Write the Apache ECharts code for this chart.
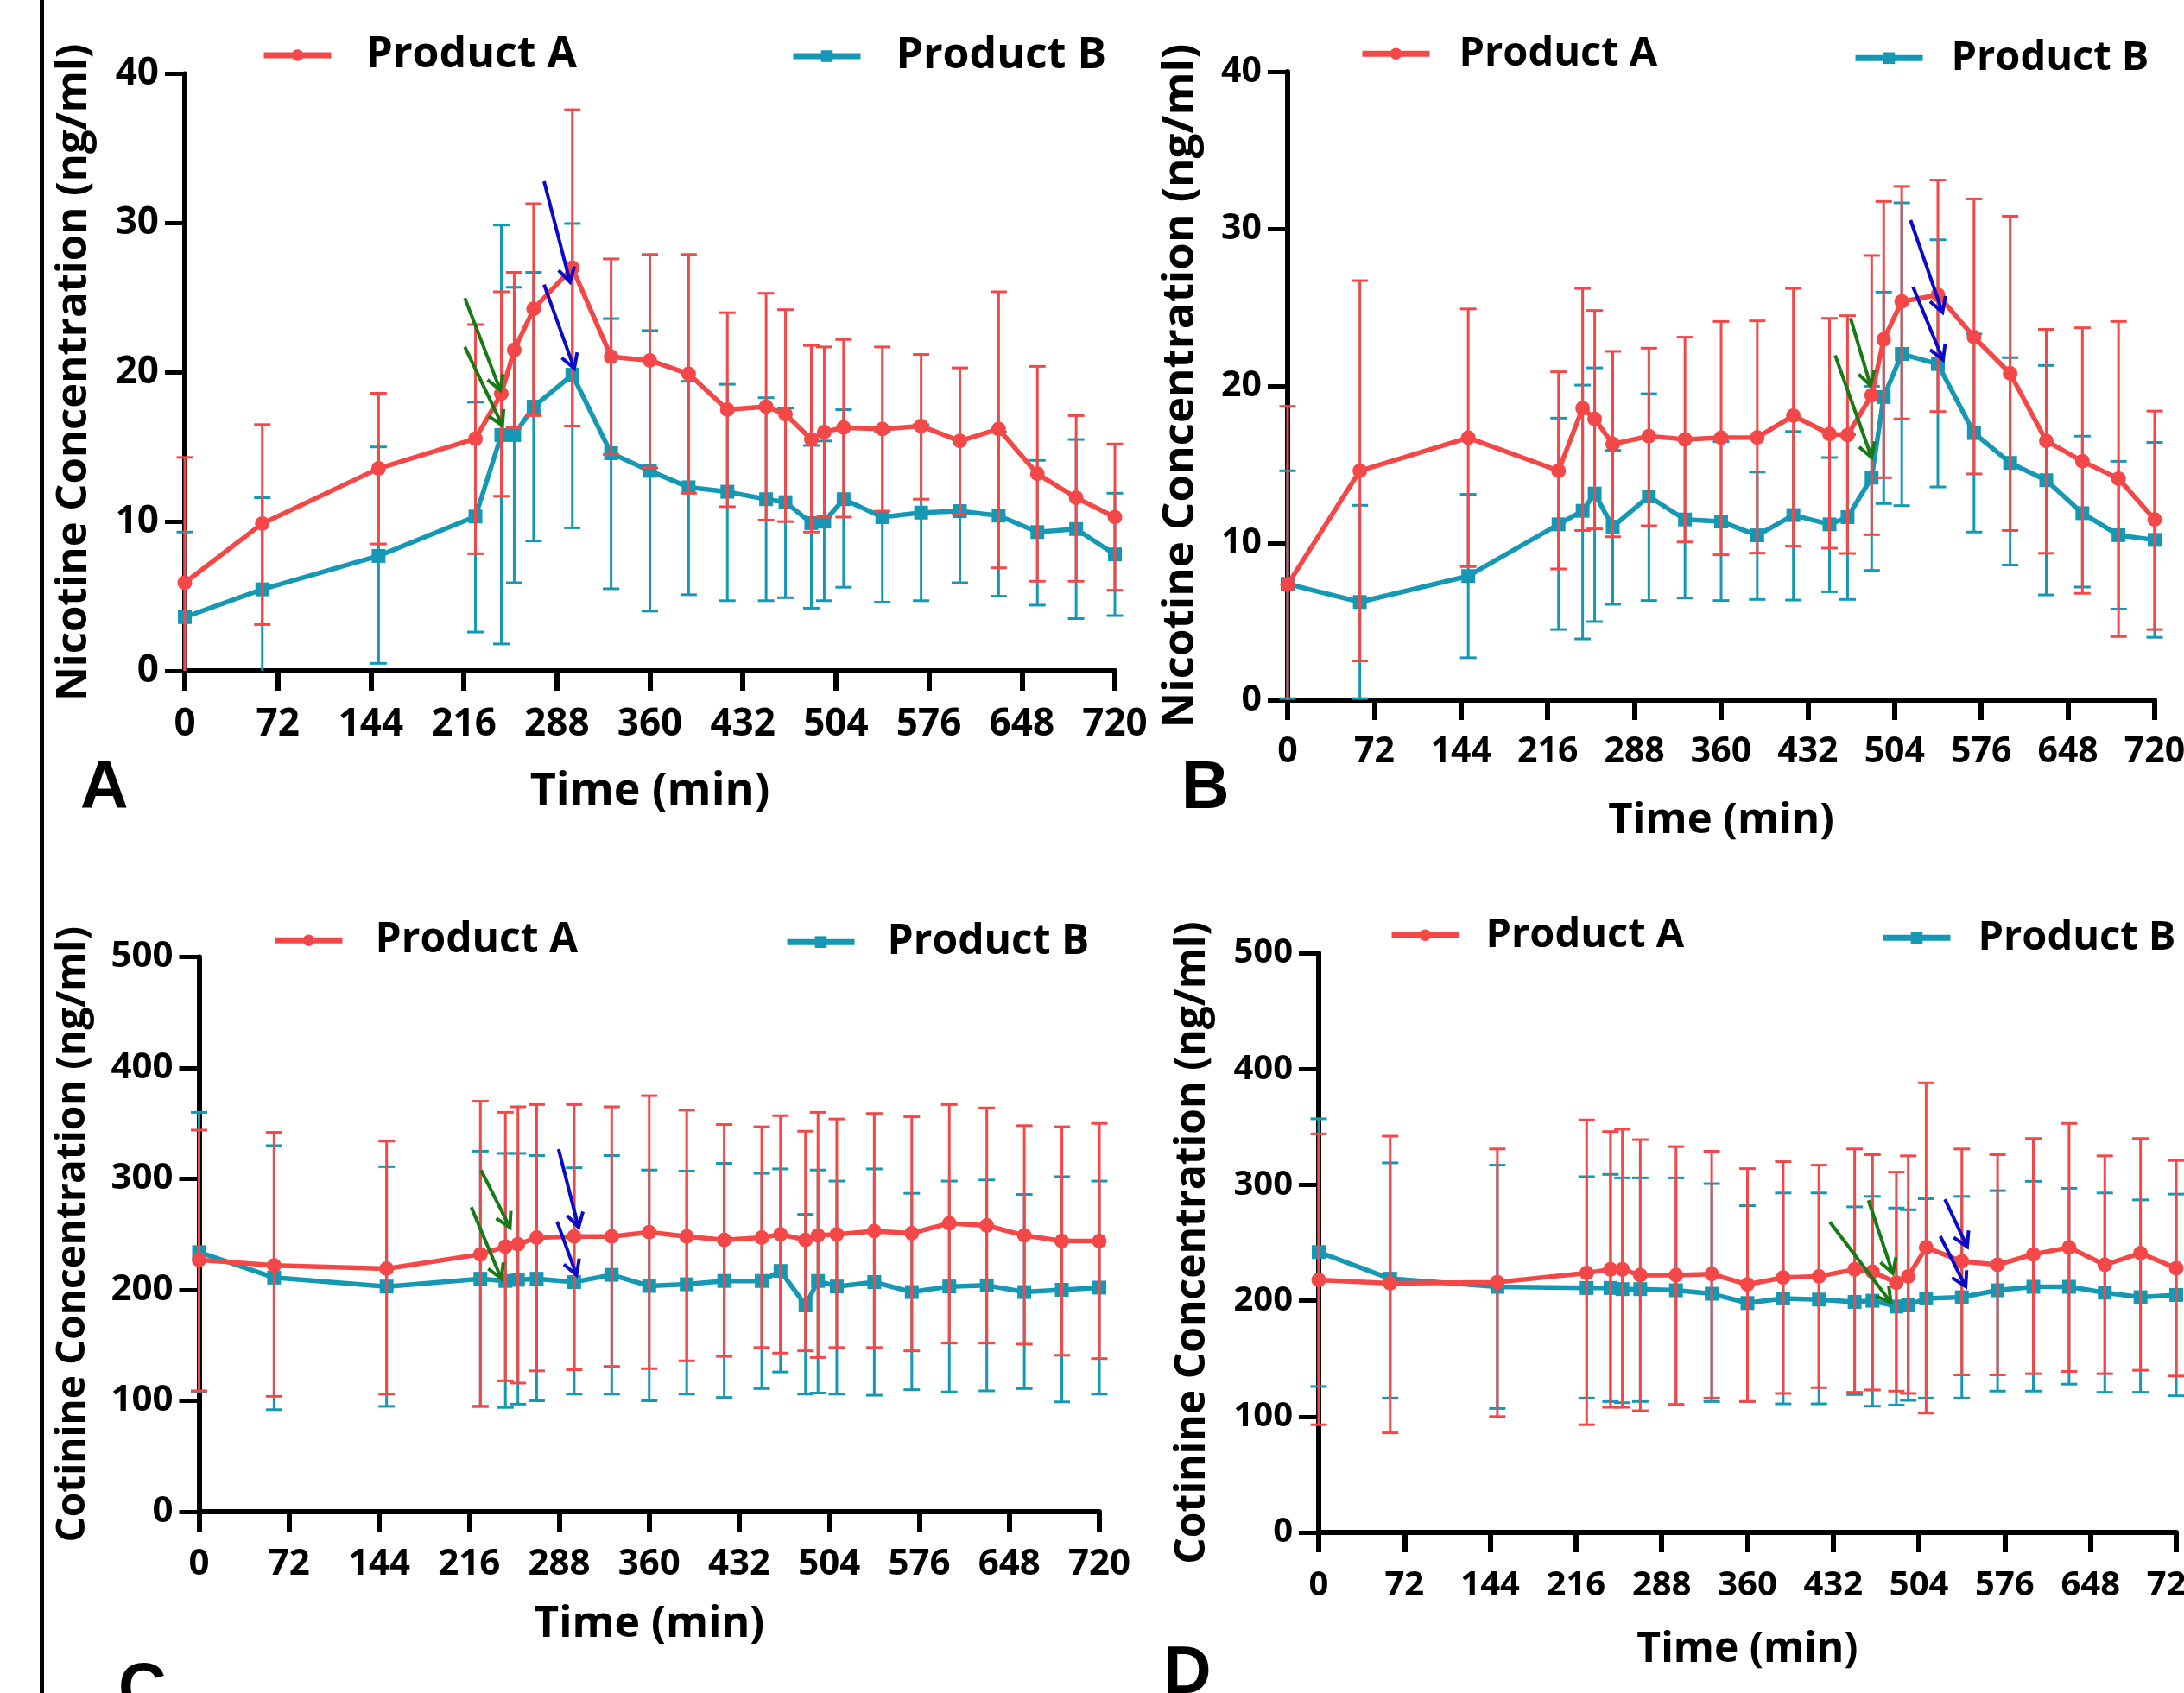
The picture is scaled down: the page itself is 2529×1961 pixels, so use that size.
<!DOCTYPE html>
<html><head><meta charset="utf-8">
<script src="https://cdn.jsdelivr.net/npm/echarts@6/dist/echarts.min.js"></script>
<style>html,body{margin:0;padding:0;background:#fff}#c{width:2529px;height:1961px}</style>
</head><body><div id="c"></div>
<script>
// ---------- DATA ----------
const times = [0,60,150,225,245,255,270,300,330,360,390,420,450,465,485,495,510,540,570,600,630,660,690,720];
const xTicks = [0,72,144,216,288,360,432,504,576,648,720];
const seriesNames = ['Product A','Product B'];
const panelLetters = ['A','B','C','D'];
const yTitles = ['Nicotine Concentration (ng/ml)','Nicotine Concentration (ng/ml)','Cotinine Concentration (ng/ml)','Cotinine Concentration (ng/ml)'];
const xTitle = 'Time (min)';

// Panel A – nicotine
const aProdA_mean = [5.9,9.87,13.56,15.55,18.57,21.5,24.25,27.0,21.05,20.8,19.9,17.5,17.7,17.2,15.5,16.0,16.3,16.2,16.4,15.4,16.2,13.2,11.6,10.3];
const aProdA_high = [14.3,16.5,18.6,23.2,25.4,26.7,31.3,37.6,27.6,27.9,27.9,24.0,25.3,24.2,21.8,21.7,22.2,21.7,21.2,20.3,25.4,20.4,17.1,15.2];
const aProdA_low  = [-2.5,3.1,8.5,7.85,11.7,16.3,17.1,16.4,14.5,13.6,11.9,11.0,10.1,10.0,9.3,10.3,10.3,10.7,11.5,10.5,6.9,6.0,6.0,5.4];
const aProdB_mean = [3.6,5.46,7.7,10.34,15.8,15.8,17.7,19.84,14.58,13.4,12.3,12.0,11.5,11.3,9.9,10.0,11.5,10.3,10.6,10.7,10.4,9.3,9.5,7.8];
const aProdB_high = [9.3,11.6,15.0,18.0,29.87,25.7,26.7,29.97,23.6,22.8,19.4,19.2,18.3,17.6,15.1,15.4,17.5,16.0,16.5,15.5,16.0,14.1,15.5,11.9];
const aProdB_low  = [-2.1,-0.7,0.5,2.6,1.8,5.9,8.7,9.58,5.5,4.0,5.1,4.7,4.7,4.9,4.2,4.7,5.6,4.6,4.7,5.9,5.0,4.4,3.5,3.7];

// Panel B – nicotine
const bProdA_mean = [7.35,14.6,16.7,14.6,18.59,17.9,16.3,16.8,16.6,16.7,16.72,18.1,16.94,16.87,19.41,22.95,25.37,25.79,23.1,20.8,16.5,15.2,14.1,11.5];
const bProdA_high = [18.7,26.7,24.9,20.9,26.2,24.8,22.2,22.4,23.1,24.1,24.14,26.2,24.3,24.47,28.3,31.74,32.7,33.1,31.9,30.8,23.6,23.7,24.1,18.4];
const bProdA_low  = [-4.0,2.5,8.5,8.35,10.8,10.9,10.4,11.1,10.07,9.25,9.36,9.8,9.67,9.34,10.53,14.16,17.9,18.37,14.4,10.8,9.35,6.8,4.05,4.5];
const bProdB_mean = [7.4,6.25,7.9,11.19,12.05,13.15,11.04,12.97,11.5,11.37,10.49,11.78,11.19,11.65,14.16,19.29,22.03,21.39,17.0,15.1,14.0,11.9,10.5,10.2];
const bProdB_high = [14.6,12.4,13.1,17.95,20.05,21.15,15.9,19.5,16.6,16.45,14.52,17.1,15.44,16.9,19.98,25.97,31.65,29.3,23.3,21.8,21.3,16.8,15.2,16.4];
const bProdB_low  = [0.1,0.1,2.7,4.5,3.9,5.0,6.1,6.34,6.5,6.34,6.41,6.37,6.9,6.41,8.26,12.51,12.38,13.57,10.7,8.6,6.7,7.2,5.8,4.0];

// Panel C – cotinine
const cProdA_mean = [227,222,219,232,239,241,247,248,248,252,248,245,247,250,245,249,250,253,251,260,258,249,244,244];
const cProdA_high = [344,342,334,370,360,365,367,367,365,375,362,349,347,357,343,360,354,359,356,367,364,348,347,350];
const cProdA_low  = [109,104,106,95,118,116,127,128,131,129,136,140,148,143,145,139,148,148,145,152,152,151,141,138];
const cProdB_mean = [234,211,203,210,208,209,210,207,213.5,203.5,205,208,208,217,186,208,203,207,198,203,204,198,200,202];
const cProdB_high = [360,330,311,325,323,323,321,310,321,308,307,314,305,309,268,308,298,309,287,298,299,286,302,298];
const cProdB_low  = [108,92,95,95,94,97,100,106,106,100,106,103,111,126,106,107,106,105,110,108,109,111,99,106];

// Panel D – cotinine
const dProdA_mean = [218,215,216,224,227,227,222,222,223,214,220,221,227,225,215.5,221,246,234,231,240,246,231,241,228];
const dProdA_high = [344,342,331,356,346,348,339,333,329,314,320,317,331,326,311,325,388,331,326,340,353,325,340,321];
const dProdA_low  = [93,86,100,93,108,108,105,110.5,116,113,120,125,121,123,122,120,103,136,136,137,139,137,140,135];
const dProdB_mean = [242,219,212,211,211,210,210,209,206,198,202,201,199,200,195,196,202,203,209,212,212,207,203,205];
const dProdB_high = [357,319,317,307,309,306,306,306,301,282,293,293,281,290,280,278.5,288,290,295,303,297,293,287,292];
const dProdB_low  = [126,116,107,116,113,112,113,110,113,113,111,111,119,109,110,114,116,116,122,122,128,121,121,118];

// Annotation arrows [t1, v1, t2(tip), v2(tip)]
const aGreenArrows = [[216.8,24.97,244.2,18.81],[216.8,21.7,245.8,16.44]];
const aBlueArrows  = [[278.1,32.8,298.2,26.05],[278.1,25.88,301.5,20.26]];
const bGreenArrows = [[467.4,24.32,484.1,20.02],[454.7,21.94,485.0,15.44]];
const bBlueArrows  = [[517.3,30.55,543.8,24.69],[519.3,26.3,544.3,21.66]];
const cGreenArrows = [[225.5,307.9,248.6,256.3],[217.7,274.5,241.7,210.1]];
const cBlueArrows  = [[287.5,326.9,303.5,256.3],[286.3,261.6,301.8,213.5]];
const dGreenArrows = [[429.2,267.9,480.4,198.5],[461.6,286.7,482.0,223.7]];
const dBlueArrows  = [[525.8,287.6,544.5,246.5],[521.9,255.6,543.2,212.2]];

const yMaxes = [40,40,500,500];
const yIntervals = [10,10,100,100];

// ---------- STYLE / LAYOUT ----------
const FONT = '"Open Sans", "Liberation Sans", sans-serif';
const RED = '#F44848', TEAL = '#1598B3', GREEN = '#177A17', BLUE = '#0A0ACB';
const layout = [
  {grid:{left:214,top:85.6,width:1077,height:691.4}, tick:44, yT:49, xT:52, lg:50, yGap:103, xGap:114, xMargin:40,
   legA:{icon:302,text:420,cy:69}, legB:{icon:915,text:1034,cy:70}, letter:{x:93,y:890}},
  {grid:{left:1491,top:83,width:1004,height:728}, tick:41, yT:51, xT:49, lg:47, yGap:98, xGap:116, xMargin:40,
   legA:{icon:1574,text:1686,cy:67}, legB:{icon:2145,text:2256,cy:72}, letter:{x:1368,y:890}},
  {grid:{left:230.5,top:1108.5,width:1042.5,height:642.5}, tick:42, yT:46, xT:50, lg:48, yGap:123, xGap:106, xMargin:40,
   legA:{icon:315,text:431,cy:1094}, legB:{icon:908,text:1024,cy:1096}, letter:{x:137,y:1934}},
  {grid:{left:1527,top:1104,width:993,height:671}, tick:40, yT:48, xT:48, lg:47, yGap:122, xGap:112, xMargin:42,
   legA:{icon:1608,text:1717,cy:1088}, legB:{icon:2177,text:2287,cy:1091}, letter:{x:1347,y:1915}}
];

const panelData = [
  {A:[aProdA_mean,aProdA_low,aProdA_high], B:[aProdB_mean,aProdB_low,aProdB_high], g:aGreenArrows, b:aBlueArrows},
  {A:[bProdA_mean,bProdA_low,bProdA_high], B:[bProdB_mean,bProdB_low,bProdB_high], g:bGreenArrows, b:bBlueArrows},
  {A:[cProdA_mean,cProdA_low,cProdA_high], B:[cProdB_mean,cProdB_low,cProdB_high], g:cGreenArrows, b:cBlueArrows},
  {A:[dProdA_mean,dProdA_low,dProdA_high], B:[dProdB_mean,dProdB_low,dProdB_high], g:dGreenArrows, b:dBlueArrows}
];

function errRender(color){
  return function(params, api){
    const x = api.value(0); let lo = api.value(1); const hi = api.value(2);
    const clipped = lo < 0; if (clipped) lo = 0;
    const pLo = api.coord([x, lo]), pHi = api.coord([x, hi]);
    const st = {stroke: color, lineWidth: 3};
    const cap = 9.5;
    const ch = [
      {type:'line', shape:{x1:pLo[0],y1:pLo[1],x2:pHi[0],y2:pHi[1]}, style:st},
      {type:'line', shape:{x1:pHi[0]-cap,y1:pHi[1],x2:pHi[0]+cap,y2:pHi[1]}, style:st}
    ];
    if (!clipped) ch.push({type:'line', shape:{x1:pLo[0]-cap,y1:pLo[1],x2:pLo[0]+cap,y2:pLo[1]}, style:st});
    return {type:'group', children: ch};
  };
}
function arrowRender(color){
  return function(params, api){
    const p1 = api.coord([api.value(0), api.value(1)]);
    const p2 = api.coord([api.value(2), api.value(3)]);
    const ang = Math.atan2(p1[1]-p2[1], p1[0]-p2[0]);
    const L = 19, w = 30*Math.PI/180;
    const a1 = [p2[0]+L*Math.cos(ang+w), p2[1]+L*Math.sin(ang+w)];
    const a2 = [p2[0]+L*Math.cos(ang-w), p2[1]+L*Math.sin(ang-w)];
    const st = {stroke: color, lineWidth: 4, fill: null, lineJoin:'miter'};
    return {type:'group', children:[
      {type:'line', shape:{x1:p1[0],y1:p1[1],x2:p2[0],y2:p2[1]}, style:st},
      {type:'polyline', shape:{points:[a1,p2,a2]}, style:st}
    ]};
  };
}

const grids=[], xAxes=[], yAxes=[], series=[], legends=[], graphics=[];
layout.forEach((L, i) => {
  grids.push(Object.assign({containLabel:false, outerBoundsMode:'none'}, L.grid));
  const lbl = {fontFamily:FONT, fontWeight:'bold', color:'#000', fontSize:L.tick};
  xAxes.push({type:'value', gridIndex:i, min:0, max:720, interval:72,
    axisLine:{show:true, onZero:true, lineStyle:{color:'#000', width:6}},
    axisTick:{show:true, length:23, lineStyle:{color:'#000', width:6}},
    axisLabel:Object.assign({margin:L.xMargin, customValues:xTicks}, lbl),
    splitLine:{show:false},
    name:xTitle, nameLocation:'middle', nameGap:L.xGap,
    nameTextStyle:{fontFamily:FONT, fontWeight:'bold', color:'#000', fontSize:L.xT}});
  yAxes.push({type:'value', gridIndex:i, min:0, max:yMaxes[i], interval:yIntervals[i],
    axisLine:{show:true, lineStyle:{color:'#000', width:6}},
    axisTick:{show:true, length:23, lineStyle:{color:'#000', width:5}},
    axisLabel:Object.assign({margin:30}, lbl),
    splitLine:{show:false},
    name:yTitles[i], nameLocation:'middle', nameRotate:90, nameGap:L.yGap,
    nameTextStyle:{fontFamily:FONT, fontWeight:'bold', color:'#000', fontSize:L.yT}});

  const pd = panelData[i];
  const mk = (arr) => times.map((t,k)=>[t, arr[1][k], arr[2][k]]);
  const ln = (arr) => times.map((t,k)=>[t, arr[0][k]]);
  series.push({type:'custom', name:'errB'+i, xAxisIndex:i, yAxisIndex:i, z:1, clip:false,
    renderItem:errRender(TEAL), encode:{x:0, y:[1,2]}, data:mk(pd.B), silent:true, itemStyle:{color:TEAL}});
  series.push({type:'line', name:seriesNames[1], xAxisIndex:i, yAxisIndex:i, z:2,
    data:ln(pd.B), symbol:'rect', symbolSize:16, showAllSymbol:true,
    lineStyle:{color:TEAL, width:5.5}, itemStyle:{color:TEAL}});
  series.push({type:'custom', name:'errA'+i, xAxisIndex:i, yAxisIndex:i, z:3, clip:false,
    renderItem:errRender(RED), encode:{x:0, y:[1,2]}, data:mk(pd.A), silent:true, itemStyle:{color:RED}});
  series.push({type:'line', name:seriesNames[0], xAxisIndex:i, yAxisIndex:i, z:4,
    data:ln(pd.A), symbol:'circle', symbolSize:17, showAllSymbol:true,
    lineStyle:{color:RED, width:5.5}, itemStyle:{color:RED}});
  series.push({type:'custom', name:'arrowsG'+i, xAxisIndex:i, yAxisIndex:i, z:5, clip:false,
    renderItem:arrowRender(GREEN), encode:{x:[0,2], y:[1,3]}, data:pd.g, silent:true});
  series.push({type:'custom', name:'arrowsB'+i, xAxisIndex:i, yAxisIndex:i, z:5, clip:false,
    renderItem:arrowRender(BLUE), encode:{x:[0,2], y:[1,3]}, data:pd.b, silent:true});

  [[seriesNames[0], L.legA],[seriesNames[1], L.legB]].forEach(([nm, g]) => {
    const iw = 78, ih = 17;
    legends.push({data:[nm], left:g.icon, top:g.cy - L.lg*0.6, padding:0,
      itemWidth:iw, itemHeight:ih, selectedMode:false,
      lineStyle:{width:7},
      textStyle:{fontFamily:FONT, fontWeight:'bold', color:'#000', fontSize:L.lg,
        padding:[0,0,0,g.text - g.icon - iw - 5]}});
  });

  graphics.push({type:'text', left:L.letter.x, top:L.letter.y - 14,
    style:{text:panelLetters[i], font:'bold 77px "Liberation Sans", Arial, sans-serif', fill:'#000'}});
});
graphics.push({type:'rect', left:46, top:0, shape:{x:0,y:0,width:5,height:1961}, style:{fill:'#000'}});

const chart = echarts.init(document.getElementById('c'), null, {renderer:'canvas'});
chart.setOption({
  animation:false, backgroundColor:'#fff',
  grid:grids, xAxis:xAxes, yAxis:yAxes, series:series, legend:legends, graphic:graphics
});
</script></body></html>
